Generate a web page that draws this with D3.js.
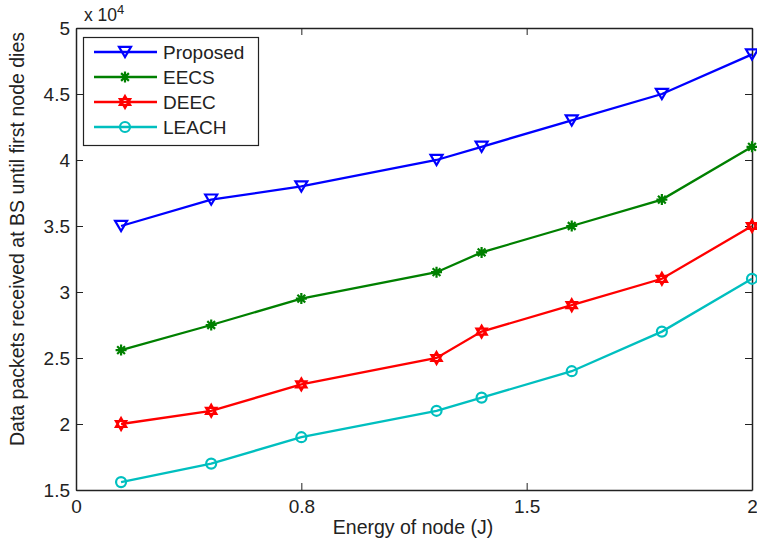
<!DOCTYPE html>
<html><head><meta charset="utf-8">
<script src="https://cdn.jsdelivr.net/npm/d3@7"></script>
<style>
body{margin:0;background:#fff;}
svg{display:block;}
text{font-family:"Liberation Sans",Arial,sans-serif;fill:#222;}
</style></head>
<body><svg id="c" width="757" height="545"></svg>
<script>
// x positions on the plotted axis (axis ticks are relabelled)
const xPos = [0.2, 0.6, 1.0, 1.6, 1.8, 2.2, 2.6, 3.0];
const xTickPos = [0, 1, 2, 3];
const xTickLabels = ["0", "0.8", "1.5", "2"];
const yTicks = [1.5, 2, 2.5, 3, 3.5, 4, 4.5, 5];
const seriesNames = ["Proposed", "EECS", "DEEC", "LEACH"];
const proposed = [3.5, 3.7, 3.8, 4.0, 4.1, 4.3, 4.5, 4.8];
const eecs     = [2.56, 2.75, 2.95, 3.15, 3.3, 3.5, 3.7, 4.1];
const deec     = [2.0, 2.1, 2.3, 2.5, 2.7, 2.9, 3.1, 3.5];
const leach    = [1.56, 1.7, 1.9, 2.1, 2.2, 2.4, 2.7, 3.1];
const seriesColors = ["#0000FF", "#008000", "#FF0000", "#00BFBF"];
const seriesMarkers = ["triangleDown", "asterisk", "hexagram", "circle"];

const svg = d3.select("#c");
const L = 76, R = 752, T = 28, B = 490;
const x = d3.scaleLinear().domain([0, 3]).range([L, R]);
const y = d3.scaleLinear().domain([1.5, 5]).range([B, T]);

function markerPath(type, s) {
  const p = d3.path();
  if (type === "triangleDown") {
    p.moveTo(-s, -s*0.85); p.lineTo(s, -s*0.85); p.lineTo(0, s*0.85); p.closePath();
  } else if (type === "asterisk") {
    for (let i = 0; i < 4; i++) {
      const a = i * Math.PI / 4;
      p.moveTo(-s*Math.cos(a), -s*Math.sin(a)); p.lineTo(s*Math.cos(a), s*Math.sin(a));
    }
  } else if (type === "hexagram") {
    for (let k = 0; k < 2; k++) {
      for (let i = 0; i < 3; i++) {
        const a = -Math.PI/2 + k*Math.PI + i*2*Math.PI/3;
        const px = s*Math.cos(a), py = s*Math.sin(a);
        if (i === 0) p.moveTo(px, py); else p.lineTo(px, py);
      }
      p.closePath();
    }
  } else {
    p.arc(0, 0, s, 0, 2*Math.PI);
  }
  return p.toString();
}
const markerSize = {triangleDown: 6, asterisk: 5.5, hexagram: 6, circle: 5};

// axes box
const ax = svg.append("g");
const xAxisB = d3.axisBottom(x).tickValues(xTickPos).tickFormat((d,i)=>xTickLabels[i]).tickSizeInner(-7).tickSizeOuter(0).tickPadding(10);
const xAxisT = d3.axisTop(x).tickValues(xTickPos).tickFormat("").tickSizeInner(-7).tickSizeOuter(0);
const yAxisL = d3.axisLeft(y).tickValues(yTicks).tickFormat(d3.format("")).tickSizeInner(-7).tickSizeOuter(0).tickPadding(6);
const yAxisR = d3.axisRight(y).tickValues(yTicks).tickFormat("").tickSizeInner(-7).tickSizeOuter(0);
[[xAxisB, `translate(0,${B})`], [xAxisT, `translate(0,${T})`], [yAxisL, `translate(${L},0)`], [yAxisR, `translate(${R},0)`]].forEach(([a, t]) => {
  const g = ax.append("g").attr("transform", t).call(a);
  g.select(".domain").attr("stroke", "#222").attr("stroke-width", 1.5);
  g.selectAll(".tick line").attr("stroke", "#222").attr("stroke-width", 1);
  g.selectAll(".tick text").style("font-size", "19px").attr("fill", "#222").style("font-family", '"Liberation Sans",Arial,sans-serif');
});

// series
const all = [proposed, eecs, deec, leach];
const line = d3.line().x((d,i)=>x(xPos[i])).y(d=>y(d));
all.forEach((vals, si) => {
  const g = svg.append("g");
  g.append("path").attr("d", line(vals)).attr("fill", "none").attr("stroke", seriesColors[si]).attr("stroke-width", 2.3);
  g.selectAll("path.m").data(vals).enter().append("path").attr("class","m")
    .attr("transform", (d,i)=>`translate(${x(xPos[i])},${y(d)})`)
    .attr("d", markerPath(seriesMarkers[si], markerSize[seriesMarkers[si]]))
    .attr("fill", "none").attr("stroke", seriesColors[si]).attr("stroke-width", 2.2);
});

// labels
svg.append("text").attr("x", (L+R)/2 - 1).attr("y", 534).attr("text-anchor","middle").style("font-size","19.5px").text("Energy of node (J)");
svg.append("text").attr("transform", `translate(24,${(T+B)/2-20}) rotate(-90)`).attr("text-anchor","middle").style("font-size","19.5px").text("Data packets received at BS until first node dies");
const ex = svg.append("text").attr("x", 84).attr("y", 21).style("font-size","17.5px");
ex.append("tspan").text("x 10");
ex.append("tspan").attr("dy", -7).style("font-size","13px").text("4");

// legend
const lg = svg.append("g");
lg.append("rect").attr("x", 83.5).attr("y", 37.5).attr("width", 175).attr("height", 108).attr("fill","#fff").attr("stroke","#222").attr("stroke-width",1.2);
seriesNames.forEach((n, i) => {
  const yy = 52 + i*25;
  lg.append("line").attr("x1", 94).attr("x2", 157).attr("y1", yy).attr("y2", yy).attr("stroke", seriesColors[i]).attr("stroke-width", 2.3);
  lg.append("path").attr("transform", `translate(125,${yy})`).attr("d", markerPath(seriesMarkers[i], markerSize[seriesMarkers[i]]))
    .attr("fill","none").attr("stroke", seriesColors[i]).attr("stroke-width", 2.2);
  lg.append("text").attr("x", 163).attr("y", yy).attr("dy", "0.35em").style("font-size","19px").text(n);
});
</script></body></html>
